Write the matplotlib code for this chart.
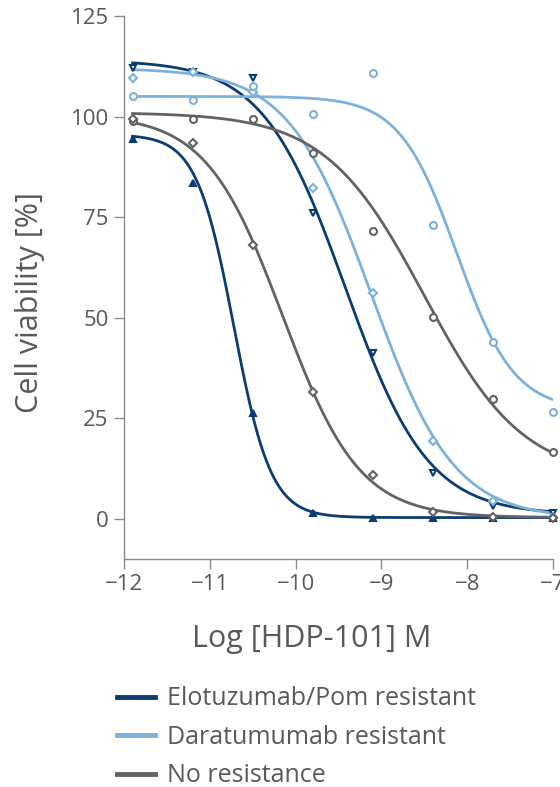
import matplotlib
matplotlib.use("Agg")
import matplotlib.pyplot as plt
from matplotlib.lines import Line2D
import numpy as np

plt.rcParams['font.family'] = ['Open Sans', 'DejaVu Sans']

# log concentration of HDP-101 (M)
log_conc = [-11.9, -11.2, -10.5, -9.8, -9.1, -8.4, -7.7, -7.0]

elo_a = [94.3, 83.6, 26.4, 1.5, 0.2, 0.2, 0.2, 0.2]
elo_b = [112.0, 111.0, 109.7, 76.0, 41.3, 11.4, 3.2, 1.5]
dara_a = [109.7, 111.0, 106.0, 82.3, 56.2, 19.4, 4.5, 0.5]
dara_b = [105.0, 104.0, 107.7, 100.7, 110.7, 73.0, 44.0, 26.6]
nores_a = [98.8, 99.3, 99.3, 90.9, 71.6, 50.2, 29.8, 16.7]
nores_b = [99.5, 93.3, 68.0, 31.6, 10.9, 1.7, 0.5, 0.3]

# fitted 4PL curves: top, bottom, logIC50, hill
fit_elo_a = [95.5, 0.3, -10.72, 2.0]
fit_elo_b = [114.0, 1.0, -9.42, 0.9]
fit_dara_a = [112.0, 0.0, -9.12, 0.9]
fit_dara_b = [105.0, 27.0, -8.12, 1.3]
fit_nores_a = [101.0, 10.0, -8.5, 0.75]
fit_nores_b = [100.5, 0.3, -10.15, 0.97]

navy = '#0b3d73'
light = '#7db1da'
grey = '#636363'
text_col = '#595959'
axis_col = '#8c8c8c'


def four_pl(x, p):
    top, bottom, ic50, hill = p
    return bottom + (top - bottom) / (1 + 10 ** ((x - ic50) * hill))


series = [
    (elo_a, fit_elo_a, navy, '^', True),
    (elo_b, fit_elo_b, navy, 'v', False),
    (dara_a, fit_dara_a, light, 'D', False),
    (dara_b, fit_dara_b, light, 'o', False),
    (nores_a, fit_nores_a, grey, 'o', False),
    (nores_b, fit_nores_b, grey, 'D', False),
]

fig = plt.figure(figsize=(5.6, 7.87), dpi=100)
ax = fig.add_axes([0.2214, 0.2897, 0.766, 0.690])

xs = np.linspace(log_conc[0], log_conc[-1], 300)
for vals, fit, col, mk, filled in series:
    ax.plot(xs, four_pl(xs, fit), color=col, lw=2.0, zorder=2)
    ms = 4 if mk == 'D' else 5
    ax.plot(log_conc, vals, ls='none', marker=mk, ms=ms, mew=1.5,
            mec=col, mfc=col if filled else 'white', zorder=3, clip_on=False)

ax.set_xlim(-12, -7)
ax.set_ylim(-10, 125)
ax.set_xticks([-12, -11, -10, -9, -8, -7])
ax.set_yticks([0, 25, 50, 75, 100, 125])

for s in ['top', 'right']:
    ax.spines[s].set_visible(False)
for s in ['left', 'bottom']:
    ax.spines[s].set_color(axis_col)
    ax.spines[s].set_linewidth(1.0)

ax.tick_params(colors=axis_col, labelcolor=text_col, labelsize=16,
               length=7, width=1.0, direction='out', pad=4)

ax.set_xlabel('Log [HDP-101] M', fontsize=22, color=text_col)
ax.set_ylabel('Cell viability [%]', fontsize=22, color=text_col)
ax.xaxis.set_label_coords(0.438, -0.12)
ax.yaxis.set_label_coords(-0.185, 0.473)

handles = [Line2D([0], [0], color=navy, lw=3.5),
           Line2D([0], [0], color=light, lw=3.5),
           Line2D([0], [0], color=grey, lw=3.5)]
labels = ['Elotuzumab/Pom resistant', 'Daratumumab resistant', 'No resistance']
leg = fig.legend(handles, labels, loc='upper left', bbox_to_anchor=(0.209, 0.128),
                 frameon=False, fontsize=18, handlelength=1.5, handletextpad=0.5,
                 labelspacing=0.54, borderpad=0, borderaxespad=0)
for t in leg.get_texts():
    t.set_color(text_col)

fig.savefig('out.png', dpi=100, facecolor='white')
